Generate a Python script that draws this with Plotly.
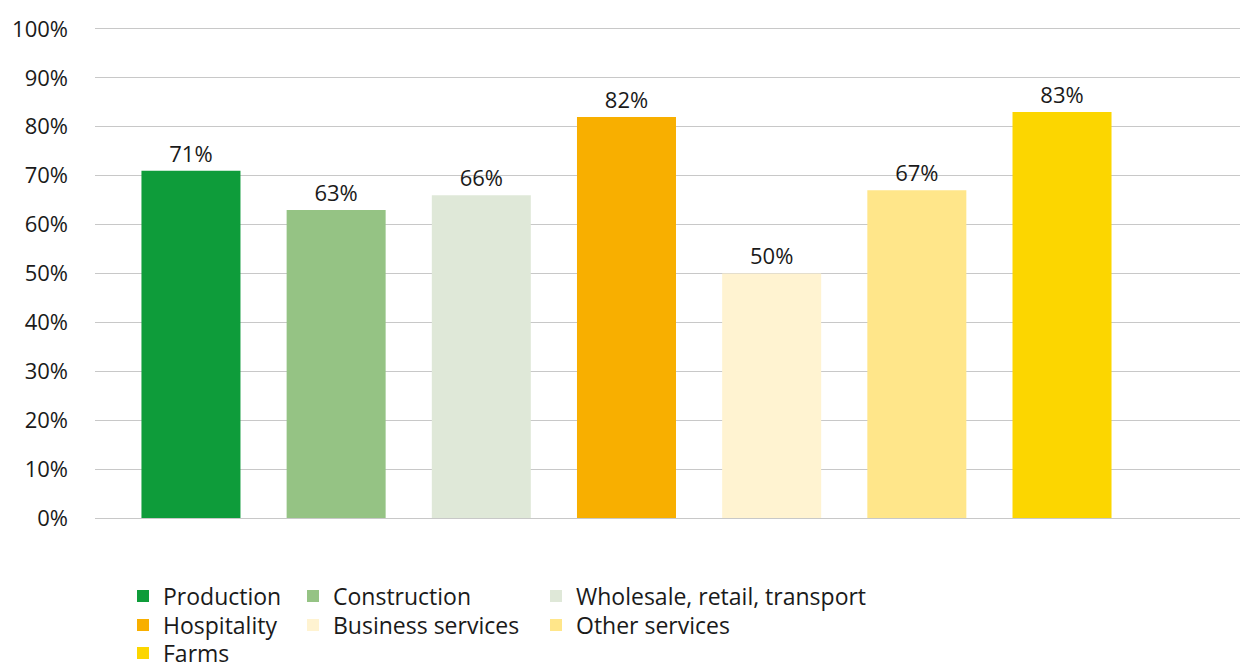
import plotly.graph_objects as go

# Share of firms per sector (percent)
sectors = ["Production", "Construction", "Wholesale, retail, transport",
           "Hospitality", "Business services", "Other services", "Farms"]
values = [71, 63, 66, 82, 50, 67, 83]
colors = ["#0E9C3A", "#95C384", "#DFE8D8", "#F8AF00", "#FFF3D1", "#FFE68A", "#FCD600"]

y_ticks = list(range(0, 101, 10))
y_tick_labels = [f"{t}%" for t in y_ticks]

FONT = "'Open Sans', 'Noto Sans', sans-serif"
TEXT = "#1a1a1a"

# Legend grid: 3 columns, filled row by row (pixel positions in the page)
COL_X = [123, 293, 536]
ROW_Y = [596, 625, 653]

fig = go.Figure()
legend_layouts = {}
for i, (name, val, col) in enumerate(zip(sectors, values, colors)):
    lg = "legend" if i == 0 else f"legend{i + 1}"
    fig.add_trace(go.Bar(
        x=[name], y=[val], name=name,
        marker=dict(color=col, line=dict(width=0)),
        width=0.682,
        text=[f"{val}%"], textposition="outside",
        textfont=dict(size=22, color=TEXT, family=FONT),
        constraintext="none",
        cliponaxis=False,
        legend=lg,
    ))
    r, c = divmod(i, 3)
    legend_layouts[lg] = dict(
        orientation="v", xref="container", yref="container",
        xanchor="left", yanchor="middle",
        x=COL_X[c] / 1242, y=1 - ROW_Y[r] / 662,
        font=dict(size=23, color=TEXT, family=FONT),
        bgcolor="rgba(0,0,0,0)", borderwidth=0,
        itemclick=False, itemdoubleclick=False,
    )

fig.update_layout(
    width=1242, height=662,
    margin=dict(l=95, r=2, t=27, b=144, autoexpand=False),
    paper_bgcolor="white", plot_bgcolor="white",
    barmode="overlay",
    font=dict(family=FONT, color=TEXT, size=22),
    showlegend=True,
    xaxis=dict(
        type="category", range=[-0.661, 7.226],
        showticklabels=False, showgrid=False, zeroline=False,
        showline=False, ticks="",
    ),
    yaxis=dict(
        range=[0, 100.4], tickvals=y_ticks, ticktext=y_tick_labels,
        showgrid=True, gridcolor="#C8C8C8", gridwidth=1,
        zeroline=True, zerolinecolor="#C8C8C8", zerolinewidth=1,
        showline=False, ticks="", ticklabelstandoff=26,
        tickfont=dict(size=22, color=TEXT, family=FONT),
    ),
    **legend_layouts,
)

fig.write_html("out.html")
